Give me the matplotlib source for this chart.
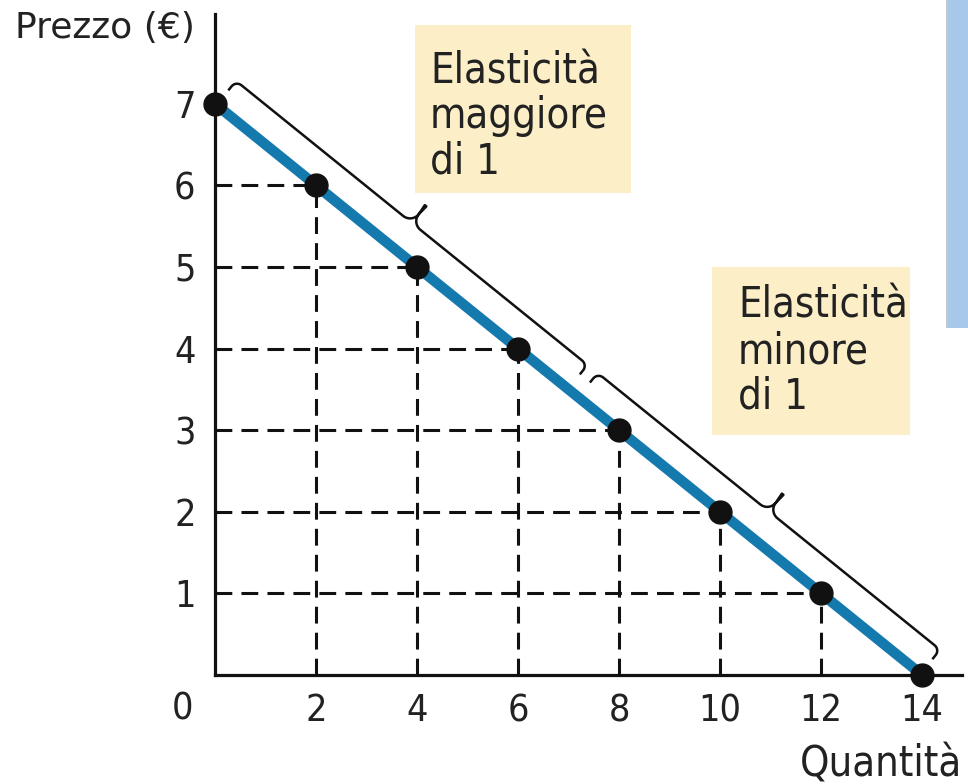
import numpy as np
import matplotlib.pyplot as plt
from matplotlib.patches import Rectangle

# domanda lineare: prezzo e quantità
quantita = [0, 2, 4, 6, 8, 10, 12, 14]
prezzo = [7, 6, 5, 4, 3, 2, 1, 0]

x_ticks = [2, 4, 6, 8, 10, 12, 14]
y_ticks = [1, 2, 3, 4, 5, 6, 7]

# tratti della curva coperti dalle due parentesi graffe
tratto_elastico = (0.03, 6.99)
tratto_anelastico = (7.19, 13.97)

righe_elastico = ["Elasticità", "maggiore", "di 1"]
righe_anelastico = ["Elasticità", "minore", "di 1"]

W, H = 968, 784
plt.rcParams['font.family'] = ['DejaVu Sans']
plt.rcParams['font.stretch'] = 'condensed'


def fx(x):
    return x / W


def fy(y):
    return 1 - y / H


fig = plt.figure(figsize=(W / 100, H / 100), dpi=100)
ax = fig.add_axes([fx(215), fy(675), (962 - 215) / W, (675 - 14) / H])
ax.set_xlim(0, 14.79)
ax.set_ylim(0, 8.1)

for s in ['top', 'right']:
    ax.spines[s].set_visible(False)
for s in ['left', 'bottom']:
    ax.spines[s].set_linewidth(2.3)
    ax.spines[s].set_color('#111111')

ax.set_xticks(x_ticks)
ax.set_yticks(y_ticks)
ax.tick_params(length=0, labelsize=27, colors='#222222')
ax.tick_params(axis='x', pad=13)
ax.tick_params(axis='y', pad=14)

# linee tratteggiate verso gli assi
for q, p in zip(quantita[1:-1], prezzo[1:-1]):
    ax.plot([0, q], [p, p], color='#111111', lw=2.2, ls=(0, (5.5, 3)), zorder=2)
    ax.plot([q, q], [0, p], color='#111111', lw=2.2, ls=(0, (5.5, 3)), zorder=2)

ax.plot(quantita, prezzo, color='#1479ad', lw=7.5, solid_capstyle='butt', zorder=3, clip_on=False)
ax.plot(quantita, prezzo, 'o', color='#111111', ms=16.5, zorder=4, clip_on=False)


def brace(q0, q1, h=31, h0=20, r=7, tip=53, r2=11):
    # parentesi graffa parallela alla retta, costruita in pixel e riportata in dati
    a = ax.transData.transform((q0, 7 - q0 / 2))
    b = ax.transData.transform((q1, 7 - q1 / 2))
    d = b - a
    L = np.hypot(*d)
    u = d / L
    n = np.array([-u[1], u[0]])
    half = [(0, h0), (0, h - r)]
    for t in np.linspace(np.pi, np.pi / 2, 12):
        half.append((r + r * np.cos(t), h - r + r * np.sin(t)))
    for t in np.linspace(-np.pi / 2, 0, 12):
        half.append((L / 2 - r2 + r2 * np.cos(t), h + r2 + r2 * np.sin(t)))
    half.append((L / 2 - 1, tip))
    other = [(L - s, v) for s, v in reversed(half)]
    pts = np.array(half + other)
    disp = a + pts[:, :1] * u + pts[:, 1:] * n
    data = ax.transData.inverted().transform(disp)
    ax.plot(data[:, 0], data[:, 1], color='#111111', lw=1.8, clip_on=False,
            solid_joinstyle='round', zorder=2)


brace(*tratto_elastico)
brace(*tratto_anelastico)

# riquadri gialli con le didascalie
fig.patches.append(Rectangle((fx(415), fy(193)), 216 / W, 168 / H, transform=fig.transFigure,
                             facecolor='#fcefc8', edgecolor='none', zorder=0))
fig.patches.append(Rectangle((fx(712), fy(435)), 198 / W, 168 / H, transform=fig.transFigure,
                             facecolor='#fcefc8', edgecolor='none', zorder=0))
for i, riga in enumerate(righe_elastico):
    fig.text(fx(430), fy(83 + 45 * i), riga, fontsize=30,
             va='baseline', ha='left', color='#222222')
for i, riga in enumerate(righe_anelastico):
    fig.text(fx(738), fy(317 + 46 * i), riga, fontsize=30,
             va='baseline', ha='left', color='#222222')

# banda azzurra sul bordo destro
fig.patches.append(Rectangle((fx(948), fy(328)), 20 / W, 328 / H, transform=fig.transFigure,
                             facecolor='#a8c8ea', edgecolor='none'))
fig.patches.append(Rectangle((fx(946), fy(328)), 2 / W, 328 / H, transform=fig.transFigure,
                             facecolor='#c4c8cc', edgecolor='none'))

fig.text(fx(15), fy(28), "Prezzo (€)", fontsize=26, fontstretch='normal',
         va='center', ha='left', color='#222222')
fig.text(fx(962), fy(776), "Quantità", fontsize=30, va='baseline', ha='right', color='#222222')
fig.text(fx(183), fy(709), "0", fontsize=27, va='center', ha='center', color='#222222')

fig.savefig('out.png', dpi=100)
